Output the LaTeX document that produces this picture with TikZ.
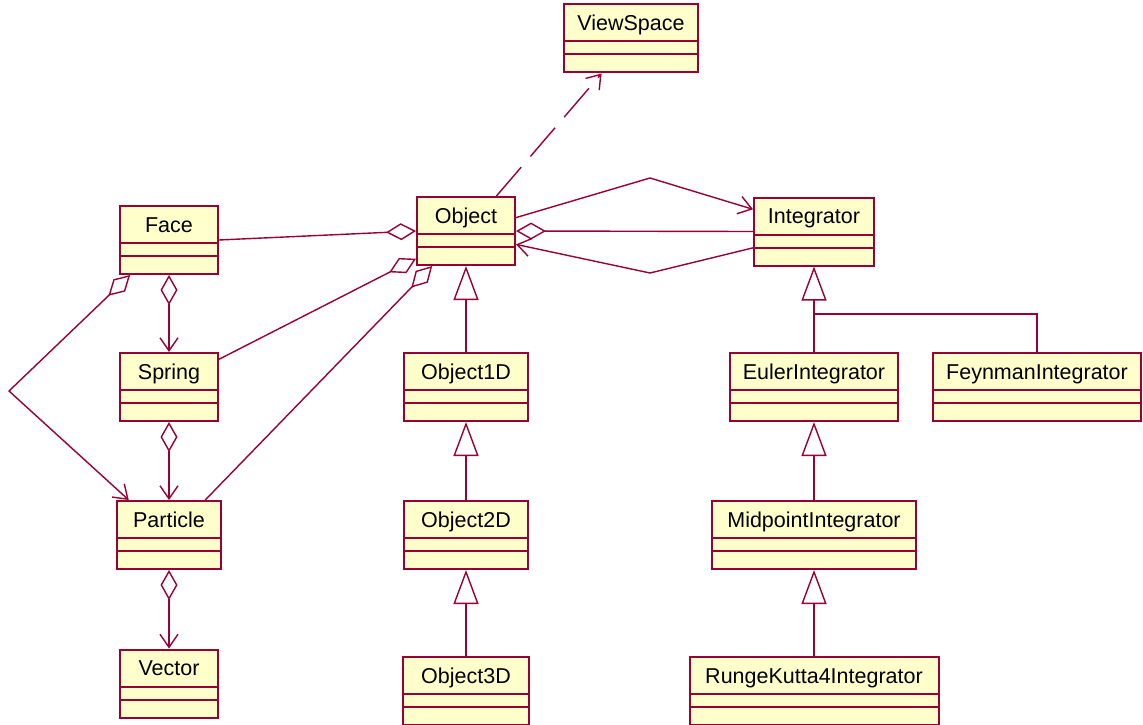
\documentclass[tikz,border=0pt]{standalone}
\usepackage{fontspec}
\setmainfont{Liberation Sans}
\usetikzlibrary{arrows.meta}
\definecolor{roseline}{RGB}{153,0,51}
\definecolor{rosefill}{RGB}{255,255,204}
\newcommand{\compartments}{%
  \draw[roseline,line width=2pt]
    ([yshift=-37pt]path picture bounding box.north west)--([yshift=-37pt]path picture bounding box.north east)
    ([yshift=-50pt]path picture bounding box.north west)--([yshift=-50pt]path picture bounding box.north east);}
\begin{document}
\begin{tikzpicture}[x=1pt,y=-1pt,
    class/.style={draw=roseline,fill=rosefill,line width=2pt,inner sep=0pt,
      text height=26pt,text depth=42pt,font=\fontsize{21.5}{24}\selectfont,
      path picture={\compartments}},
    link/.style={roseline,line width=1.4pt},
    agg/.style={link,{Diamond[open,length=30pt,width=17pt]}-},
    aggnav/.style={link,{Diamond[open,length=30pt,width=17pt]}-{Straight Barb[length=13pt,width=18pt]}},
    nav/.style={link,-{Straight Barb[length=13pt,width=18pt]}},
    dep/.style={nav,dash pattern=on 38pt off 14pt},
    inherit/.style={link,-{Triangle[open,length=34pt,width=25pt]}}]
    \fill[white](0,0)rectangle(1143,725);
    \useasboundingbox(0,0)rectangle(1143,725);
    \node[class,minimum width=134pt](view)at(631,38.5){ViewSpace};
    \node[class,minimum width=98pt](face)at(169,240){Face};
    \node[class,minimum width=98pt](obj)at(466,231){Object};
    \node[class,minimum width=120pt](intg)at(814,231.5){Integrator};
    \node[class,minimum width=98pt](spring)at(169,387){Spring};
    \node[class,minimum width=124pt](obja)at(466,387){Object1D};
    \node[class,minimum width=168pt](euler)at(814,387){EulerIntegrator};
    \node[class,minimum width=208pt](feyn)at(1037,387){FeynmanIntegrator};
    \node[class,minimum width=104pt](part)at(169,535){Particle};
    \node[class,minimum width=124pt](objb)at(466,535){Object2D};
    \node[class,minimum width=204pt](mid)at(814,535){MidpointIntegrator};
    \node[class,minimum width=98pt](vec)at(169,683.5){Vector};
    \node[class,minimum width=126pt](objc)at(466,691){Object3D};
    \node[class,minimum width=249pt](rk)at(814,691){RungeKutta4Integrator};
    \coordinate(upper)at(650,178);
    \coordinate(lower)at(650,273);
    \coordinate(outer)at(9,391);
    \coordinate(fork)at(814,314);
    \draw[dep](obj.49)--(view.230);
    \draw[agg](obj.west)--(face.east);
    \draw[agg](obj.209)--(spring.29);
    \draw[agg](obj.226)--(part.44);
    \draw[nav](obj.15)--(upper)--(intg.160);
    \draw[agg](obj.east)--(intg.west);
    \draw[nav](intg.195)--(lower)--(obj.345);
    \draw[aggnav](face.south)--(spring.north);
    \draw[aggnav](face.222.5)--(outer)--(part.139);
    \draw[aggnav](spring.south)--(part.north);
    \draw[aggnav](part.south)--(vec.north);
    \draw[inherit](obja.north)--(obj.south);
    \draw[inherit](objb.north)--(obja.south);
    \draw[inherit](objc.north)--(objb.south);
    \draw[inherit](euler.north)--(intg.south);
    \draw[link](feyn.north)|-(fork);
    \draw[inherit](mid.north)--(euler.south);
    \draw[inherit](rk.north)--(mid.south);
\end{tikzpicture}
\end{document}
